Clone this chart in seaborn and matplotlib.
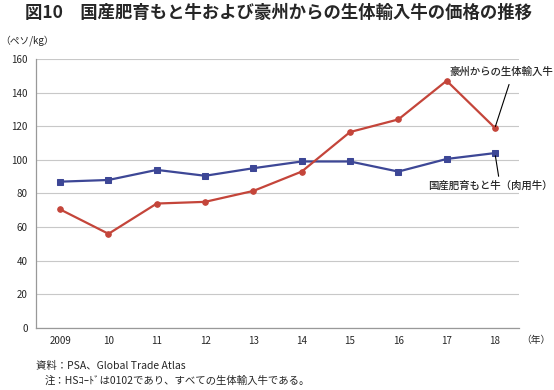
import matplotlib
matplotlib.use("Agg")
import matplotlib.pyplot as plt
import seaborn as sns
import pandas as pd

years = ["2009", "10", "11", "12", "13", "14", "15", "16", "17", "18"]
domestic = [87, 88, 94, 90.5, 95, 99, 99, 93, 100.5, 104]
imported = [70.5, 56, 74, 75, 81.5, 93, 116.5, 124, 147, 119]
yticks = [0, 20, 40, 60, 80, 100, 120, 140, 160]

title = "図10　国産肥育もと牛および豪州からの生体輸入牛の価格の推移"
unit = "（ペソ/kg）"
label_imp = "豪州からの生体輸入牛"
label_dom = "国産肥育もと牛（肉用牛）"
note1 = "資料：PSA、Global Trade Atlas"
note2 = "注：HSｺｰﾄﾞは0102であり、すべての生体輸入牛である。"

sns.set_theme(style="white")
plt.rcParams['font.family'] = ['Noto Sans CJK JP', 'DejaVu Sans']

df = pd.DataFrame({"x": list(range(len(years))), "dom": domestic, "imp": imported})

fig = plt.figure(figsize=(5.54, 3.90), dpi=100)
ax = fig.add_axes([0.065, 0.159, 0.872, 0.69])

red = "#c4453a"
blue = "#3d4796"
sns.lineplot(data=df, x="x", y="dom", ax=ax, color=blue, marker="s", markersize=4.5,
             markeredgecolor=blue, linewidth=1.6)
sns.lineplot(data=df, x="x", y="imp", ax=ax, color=red, marker="o", markersize=4,
             markeredgecolor=red, linewidth=1.6)

ax.set_xlim(-0.5, len(years) - 0.5)
ax.set_ylim(0, 160)
ax.set_yticks(yticks)
ax.set_yticklabels([str(v) for v in yticks], fontsize=7)
ax.set_xticks(range(len(years)))
ax.set_xticklabels(years, fontsize=7)
ax.set_xlabel("")
ax.set_ylabel("")
ax.grid(axis="y", color="#c8c8c8", linewidth=0.8)
ax.set_axisbelow(True)
for s in ["top", "right"]:
    ax.spines[s].set_visible(False)
for s in ["left", "bottom"]:
    ax.spines[s].set_color("#999999")
    ax.spines[s].set_linewidth(0.9)
ax.tick_params(axis="both", length=0, pad=6)

fig.text(0.045, 0.968, title, fontsize=12.5, fontweight="bold", va="center", ha="left")
fig.text(0.0, 0.897, unit, fontsize=7, va="center", ha="left")
fig.text(0.94, 0.128, "（年）", fontsize=7, va="center", ha="left")
fig.text(0.065, 0.062, note1, fontsize=7.5, va="center", ha="left")
fig.text(0.08, 0.023, note2, fontsize=7.5, va="center", ha="left")

n = len(years) - 1
ax.annotate(label_imp, xy=(n, imported[-1]), xytext=(0.998, 0.815), textcoords="figure fraction",
            fontsize=7.5, fontweight="medium", ha="right", va="center",
            arrowprops=dict(arrowstyle="-", color="black", lw=0.8, shrinkA=3, shrinkB=1,
                            relpos=(0.6, 0.0)))
ax.annotate(label_dom, xy=(n, domestic[-1]), xytext=(0.998, 0.523), textcoords="figure fraction",
            fontsize=7.5, fontweight="medium", ha="right", va="center",
            arrowprops=dict(arrowstyle="-", color="black", lw=0.8, shrinkA=1, shrinkB=2,
                            relpos=(0.57, 1.0)))

fig.savefig("out.png", dpi=100)
